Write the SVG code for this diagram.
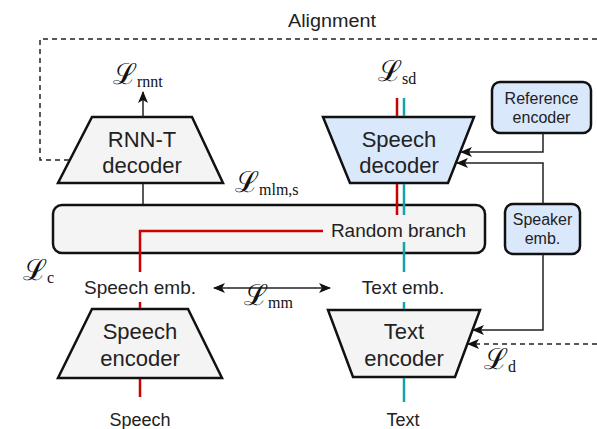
<svg xmlns="http://www.w3.org/2000/svg" width="597" height="429" viewBox="0 0 597 429">
<defs>
<style>
.t{font-family:"Liberation Sans",Arial,sans-serif;fill:#222;text-anchor:middle}
.n{font-size:22px}
.s{font-size:18px}
.x{font-size:16px}
.m{font-family:"DejaVu Serif","Liberation Serif",serif;font-size:29px;fill:#111}
.sub{font-family:"Liberation Serif",serif;font-size:16px}
.gray{fill:#f4f4f4;stroke:#111;stroke-width:2.5}
.blue{fill:#dae8fc;stroke:#111;stroke-width:2.5}
.k{fill:none;stroke:#222;stroke-width:1.5}
.d{fill:none;stroke:#222;stroke-width:1.5;stroke-dasharray:5 4}
.r{fill:none;stroke:#cc0000;stroke-width:2.5}
.c{fill:none;stroke:#13a3a8;stroke-width:2.5}
</style>
<marker id="ah" viewBox="0 0 12 10" refX="11" refY="5" markerWidth="12" markerHeight="10" markerUnits="userSpaceOnUse" orient="auto-start-reverse">
<path d="M0,0 L12,5 L0,10 L3,5 z" fill="#111"/>
</marker>
</defs>

<g id="alignment-label"><text class="t" x="332" y="27" font-size="18" textLength="88" lengthAdjust="spacingAndGlyphs">Alignment</text></g>

<g id="rnnt-decoder">
<polygon class="gray" points="92,117 192,117 223,183 58,183"/>
<text class="t n" x="142" y="147">RNN-T</text>
<text class="t n" x="142" y="173">decoder</text>
</g>

<g id="speech-decoder">
<polygon class="blue" points="323,117 474,117 448,183 350,183"/>
<text class="t n" x="399" y="147">Speech</text>
<text class="t n" x="399" y="173">decoder</text>
</g>

<g id="reference-encoder">
<rect class="blue" x="492" y="82" width="99" height="51" rx="8"/>
<text class="t x" x="541.5" y="104">Reference</text>
<text class="t x" x="541.5" y="123">encoder</text>
</g>

<g id="shared-encoder">
<rect class="gray" x="53" y="205" width="432" height="48" rx="9"/>
<text class="t" font-size="19" x="398.5" y="237">Random branch</text>
</g>

<g id="speaker-emb">
<rect class="blue" x="505" y="204" width="75" height="50" rx="8"/>
<text class="t x" x="542.5" y="225">Speaker</text>
<text class="t x" x="542.5" y="244">emb.</text>
</g>

<g id="speech-emb"><text class="t" font-size="19" x="140" y="294">Speech emb.</text></g>
<g id="text-emb"><text class="t" font-size="19" x="403" y="294">Text emb.</text></g>

<g id="speech-encoder">
<polygon class="gray" points="92,309 188,309 222,378 58,378"/>
<text class="t n" x="140" y="339">Speech</text>
<text class="t n" x="140" y="366">encoder</text>
</g>

<g id="text-encoder">
<polygon class="gray" points="328,310 480,310 455,377 353,377"/>
<text class="t n" x="404" y="339">Text</text>
<text class="t n" x="404" y="366">encoder</text>
</g>

<g id="speech-input"><text class="t s" x="140" y="426">Speech</text></g>
<g id="text-input"><text class="t s" x="403" y="426">Text</text></g>

<g id="connectors">
<path class="d" d="M69,160 H40 V39 H597"/>
<path class="k" d="M143,117 V92" marker-end="url(#ah)"/>
<path class="k" d="M143,184 V204"/>
<path class="r" d="M323,231 H140 V272"/>
<path class="r" d="M140,302 V308"/>
<path class="r" d="M140,379 V397"/>
<path class="r" d="M397,98 V116"/>
<path class="r" d="M397,184 V215"/>
<path class="c" d="M404,98 V116"/>
<path class="c" d="M404,184 V215"/>
<path class="c" d="M404,242 V272"/>
<path class="c" d="M404,302 V309"/>
<path class="c" d="M404,378 V402"/>
<path class="k" d="M543,133 V152 H461" marker-end="url(#ah)"/>
<path class="k" d="M543,204 V163 H457" marker-end="url(#ah)"/>
<path class="k" d="M543,254 V330 H473" marker-end="url(#ah)"/>
<path class="d" d="M597,344 H468" marker-end="url(#ah)"/>
<path class="k" d="M214,288 H330" marker-start="url(#ah)" marker-end="url(#ah)"/>
</g>

<g id="losses">
<text class="m" x="113" y="84">ℒ<tspan class="sub" dy="3">rnnt</tspan></text>
<text class="m" x="378" y="81">ℒ<tspan class="sub" dy="3">sd</tspan></text>
<text class="m" x="235" y="192">ℒ<tspan class="sub" dy="3">mlm,s</tspan></text>
<text class="m" x="23" y="280">ℒ<tspan class="sub" dy="3">c</tspan></text>
<text class="m" x="244" y="305">ℒ<tspan class="sub" dy="3">mm</tspan></text>
<text class="m" x="484" y="369">ℒ<tspan class="sub" dy="3">d</tspan></text>
</g>
</svg>
